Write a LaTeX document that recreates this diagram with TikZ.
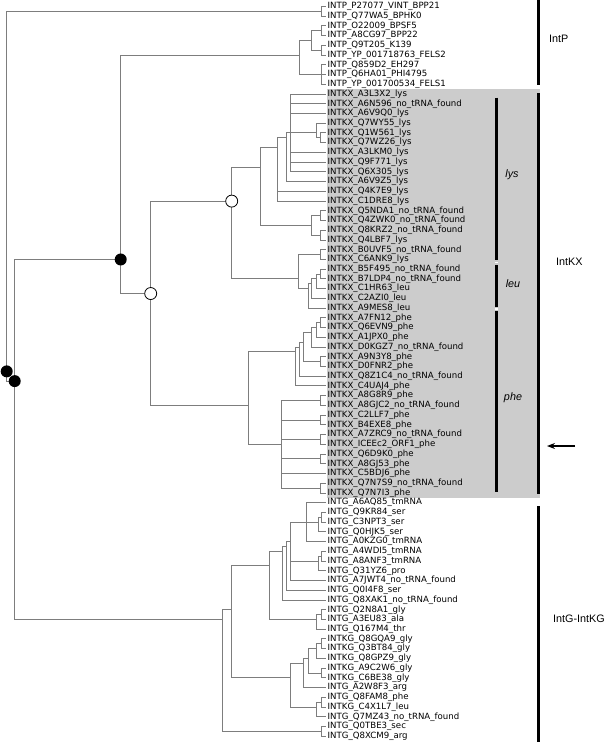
\documentclass[tikz,border=0pt]{standalone}
\usepackage{fontspec}
\setmainfont{DejaVu Sans}
\newfontfamily\arialf{Liberation Sans}
\usetikzlibrary{arrows.meta}
\definecolor{treegray}{RGB}{125,125,125}
\definecolor{boxgray}{RGB}{204,204,204}
\begin{document}
\begin{tikzpicture}[x=1pt,y=-1pt,
  branch/.style={draw=treegray, line width=1pt},
  leaf/.style={anchor=west, inner xsep=1.5pt, inner ysep=0pt, font=\fontsize{8.6}{10}\selectfont},
  bdot/.style={circle, fill=black, inner sep=0pt, minimum size=12pt},
  odot/.style={circle, draw=black, fill=white, line width=0.8pt, inner sep=0pt, minimum size=12pt},
  cbar/.style={line width=2.4pt, draw=black},
  clab/.style={anchor=west, inner sep=0pt, font=\arialf\fontsize{10.8}{12}\selectfont},
  tlab/.style={inner sep=0pt, font=\arialf\itshape\fontsize{10.8}{12}\selectfont}]
\useasboundingbox (0,0) rectangle (608,742);
\fill[boxgray] (326.5,89) rectangle (539.5,498);
\begin{scope}[y=-9.73pt, yshift=3.23pt]
\coordinate (nA) at (6.7,38.5);
\coordinate (nP12) at (321.7,1.5);
\coordinate (nB) at (14.7,39.5);
\coordinate (nC) at (120.7,27);
\coordinate (nPp) at (299.3,6);
\coordinate (nPq) at (311.7,4.5);
\coordinate (nP34) at (321.7,3.5);
\coordinate (nP56) at (321.7,5.5);
\coordinate (nP789) at (321.7,8);
\coordinate (nD) at (150.7,30.5);
\coordinate (nE) at (231.7,21);
\coordinate (nG) at (260.7,17.5);
\coordinate (nGa) at (277.7,15.5);
\coordinate (nI) at (286.7,14.5);
\coordinate (nH) at (290.5,14);
\coordinate (nK) at (316,14);
\coordinate (nKb) at (320,14.5);
\coordinate (nGb) at (311.7,23.5);
\coordinate (nGc) at (320,22.5);
\coordinate (nGd) at (320,24.5);
\coordinate (nF) at (298.3,29);
\coordinate (nFa) at (320,26.5);
\coordinate (nL) at (308.3,30);
\coordinate (nLa) at (311.7,29.5);
\coordinate (nLb) at (316,29);
\coordinate (nLc) at (320,28.5);
\coordinate (nPH) at (248.3,42);
\coordinate (nM) at (295,36.5);
\coordinate (nMa) at (299,36);
\coordinate (nMb) at (303.3,35.5);
\coordinate (nMc) at (311.7,34.5);
\coordinate (nMd) at (316,34);
\coordinate (nMe) at (320,33.5);
\coordinate (nMf) at (320,37.5);
\coordinate (nN) at (281.7,46);
\coordinate (nNa) at (320,41.5);
\coordinate (nNb) at (320,43.5);
\coordinate (nNc) at (320,45.5);
\coordinate (nNd) at (320,47.5);
\coordinate (nNe) at (320,50.5);
\coordinate (nGo) at (222.7,64);
\coordinate (nZ) at (321.7,75.5);
\coordinate (nQ) at (231.7,63);
\coordinate (nR) at (269.3,58.5);
\coordinate (nRa) at (282.7,57);
\coordinate (nT7) at (286.7,56.5);
\coordinate (nT6) at (290.7,56);
\coordinate (nT3) at (306.7,54);
\coordinate (nT2) at (318,54);
\coordinate (nT1) at (321.7,53.5);
\coordinate (nT4) at (318,58);
\coordinate (nT5) at (321.7,57.5);
\coordinate (nRb) at (316.7,64);
\coordinate (nRc) at (321.7,63.5);
\coordinate (nS) at (290.7,70);
\coordinate (nV) at (303.3,68.5);
\coordinate (nU) at (308.3,68);
\coordinate (nUa) at (316.7,67);
\coordinate (nUb) at (321.7,66.5);
\coordinate (nUc) at (321.7,69.5);
\coordinate (nW) at (316.7,73);
\coordinate (nWa) at (321.7,72.5);
\foreach \t [count=\i] in {
INTP\_P27077\_VINT\_BPP21, INTP\_Q77WA5\_BPHK0, INTP\_O22009\_BPSF5, INTP\_A8CG97\_BPP22,
INTP\_Q9T205\_K139, INTP\_YP\_001718763\_FELS2, INTP\_Q859D2\_EH297, INTP\_Q6HA01\_PHI4795,
INTP\_YP\_001700534\_FELS1,
INTKX\_A3L3X2\_lys, INTKX\_A6N596\_no\_tRNA\_found, INTKX\_A6V9Q0\_lys, INTKX\_Q7WY55\_lys,
INTKX\_Q1W561\_lys, INTKX\_Q7WZ26\_lys, INTKX\_A3LKM0\_lys, INTKX\_Q9F771\_lys, INTKX\_Q6X305\_lys,
INTKX\_A6V9Z5\_lys, INTKX\_Q4K7E9\_lys, INTKX\_C1DRE8\_lys, INTKX\_Q5NDA1\_no\_tRNA\_found,
INTKX\_Q4ZWK0\_no\_tRNA\_found, INTKX\_Q8KRZ2\_no\_tRNA\_found, INTKX\_Q4LBF7\_lys,
INTKX\_B0UVF5\_no\_tRNA\_found, INTKX\_C6ANK9\_lys, INTKX\_B5F495\_no\_tRNA\_found,
INTKX\_B7LDP4\_no\_tRNA\_found, INTKX\_C1HR63\_leu, INTKX\_C2AZI0\_leu, INTKX\_A9MES8\_leu,
INTKX\_A7FN12\_phe, INTKX\_Q6EVN9\_phe, INTKX\_A1JPX0\_phe, INTKX\_D0KGZ7\_no\_tRNA\_found,
INTKX\_A9N3Y8\_phe, INTKX\_D0FNR2\_phe, INTKX\_Q8Z1C4\_no\_tRNA\_found, INTKX\_C4UAJ4\_phe,
INTKX\_A8G8R9\_phe, INTKX\_A8GJC2\_no\_tRNA\_found, INTKX\_C2LLF7\_phe, INTKX\_B4EXE8\_phe,
INTKX\_A7ZRC9\_no\_tRNA\_found, INTKX\_ICEEc2\_ORF1\_phe, INTKX\_Q6D9K0\_phe, INTKX\_A8GJ53\_phe,
INTKX\_C5BDJ6\_phe, INTKX\_Q7N7S9\_no\_tRNA\_found, INTKX\_Q7N7I3\_phe,
INTG\_A6AQ85\_tmRNA, INTG\_Q9KR84\_ser, INTG\_C3NPT3\_ser, INTG\_Q0HJK5\_ser, INTG\_A0KZG0\_tmRNA,
INTG\_A4WDI5\_tmRNA, INTG\_A8ANF3\_tmRNA, INTG\_Q31YZ6\_pro, INTG\_A7JWT4\_no\_tRNA\_found,
INTG\_Q0I4F8\_ser, INTG\_Q8XAK1\_no\_tRNA\_found, INTG\_Q2N8A1\_gly, INTG\_A3EU83\_ala,
INTG\_Q167M4\_thr, INTKG\_Q8GQA9\_gly, INTKG\_Q3BT84\_gly, INTKG\_Q8GPZ9\_gly, INTKG\_A9C2W6\_gly,
INTKG\_C6BE38\_gly, INTG\_A2W8F3\_arg, INTG\_Q8FAM8\_phe, INTKG\_C4X1L7\_leu,
INTG\_Q7MZ43\_no\_tRNA\_found, INTG\_Q0TBE3\_sec, INTG\_Q8XCM9\_arg}
  \node[leaf] (l\i) at (326,\i) {\t};
\end{scope}
\foreach \p/\c in {
 nA/nP12, nA/nB, nP12/l1.west, nP12/l2.west, nB/nC, nB/nGo, nC/nPp, nC/nD,
 nPp/nPq, nPp/nP789, nPq/nP34, nPq/nP56, nP34/l3.west, nP34/l4.west, nP56/l5.west, nP56/l6.west,
 nP789/l7.west, nP789/l8.west, nP789/l9.west,
 nD/nE, nD/nPH, nE/nG, nE/nF, nG/nGa, nG/nGb,
 nGa/nI, nGa/l20.west, nGa/l21.west, nI/nH, nI/l19.west,
 nH/l10.west, nH/l11.west, nH/l12.west, nH/nK, nH/l16.west, nH/l17.west, nH/l18.west,
 nK/l13.west, nK/nKb, nKb/l14.west, nKb/l15.west,
 nGb/nGc, nGb/nGd, nGc/l22.west, nGc/l23.west, nGd/l24.west, nGd/l25.west,
 nF/nFa, nF/nL, nFa/l26.west, nFa/l27.west,
 nL/nLa, nL/l32.west, nLa/nLb, nLa/l31.west, nLb/nLc, nLb/l30.west, nLc/l28.west, nLc/l29.west,
 nPH/nM, nPH/nN, nM/nMa, nM/l40.west, nMa/nMb, nMa/l39.west, nMb/nMc, nMb/nMf,
 nMc/nMd, nMc/l36.west, nMd/nMe, nMd/l35.west, nMe/l33.west, nMe/l34.west, nMf/l37.west, nMf/l38.west,
 nN/nNa, nN/nNb, nN/nNc, nN/nNd, nN/l49.west, nN/nNe,
 nNa/l41.west, nNa/l42.west, nNb/l43.west, nNb/l44.west, nNc/l45.west, nNc/l46.west,
 nNd/l47.west, nNd/l48.west, nNe/l50.west, nNe/l51.west,
 nGo/nQ, nGo/nZ, nZ/l75.west, nZ/l76.west, nQ/nR, nQ/nS, nR/nRa, nR/nRb,
 nRa/nT7, nRa/l62.west, nT7/nT6, nT7/l61.west, nT6/nT3, nT6/nT4, nT6/l60.west,
 nT3/l52.west, nT3/nT2, nT3/l56.west, nT2/nT1, nT2/l55.west, nT1/l53.west, nT1/l54.west,
 nT4/nT5, nT4/l59.west, nT5/l57.west, nT5/l58.west,
 nRb/nRc, nRb/l65.west, nRc/l63.west, nRc/l64.west,
 nS/nV, nS/nW, nV/nU, nV/l71.west, nU/nUa, nU/nUc, nUa/nUb, nUa/l68.west,
 nUb/l66.west, nUb/l67.west, nUc/l69.west, nUc/l70.west,
 nW/nWa, nW/l74.west, nWa/l72.west, nWa/l73.west}
  \draw[branch] (\p) |- (\c);
\node[bdot] (dA) at (nA) {};
\node[bdot] (dB) at (nB) {};
\node[bdot] (dC) at (nC) {};
\node[odot] (dD) at (nD) {};
\node[odot] (dE) at (nE) {};
% clade bars
\coordinate (bP1) at (538.5,0);   \coordinate (bP2) at (538.5,85);
\coordinate (bK1) at (538.5,93);  \coordinate (bK2) at (538.5,494);
\coordinate (bG1) at (538.5,506); \coordinate (bG2) at (538.5,742);
\coordinate (sL1) at (496.5,97.5); \coordinate (sL2) at (496.5,260);
\coordinate (sE1) at (496.5,265);  \coordinate (sE2) at (496.5,306.6);
\coordinate (sH1) at (496.5,311);  \coordinate (sH2) at (496.5,492);
\draw[cbar] (bP1) -- (bP2);
\draw[cbar] (bK1) -- (bK2);
\draw[cbar] (bG1) -- (bG2);
\draw[cbar] (sL1) -- (sL2);
\draw[cbar] (sE1) -- (sE2);
\draw[cbar] (sH1) -- (sH2);
\fill[white] (495,261.7) rectangle (498,263.3);
\fill[white] (495,308) rectangle (498,309.6);
\node[clab] (tP) at (549,39) {IntP};
\node[clab] (tK) at (556,262) {IntKX};
\node[clab] (tG) at (553,619) {IntG-IntKG};
\node[tlab] (tlys) at (512,175) {lys};
\node[tlab] (tleu) at (513,284) {leu};
\node[tlab] (tphe) at (513,398) {phe};
\coordinate (arS) at (575,446);
\coordinate (arE) at (547,446);
\draw[line width=1.2pt, -{Stealth[length=8pt,width=6pt]}] (arS) -- (arE);
\end{tikzpicture}
\end{document}
